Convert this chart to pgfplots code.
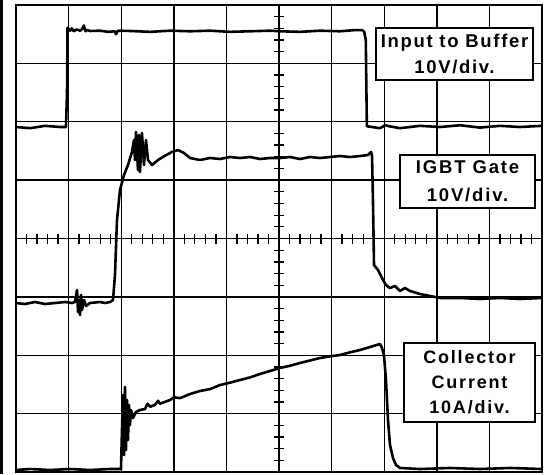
\documentclass[border=0pt]{standalone}
\usepackage{pgfplots}
\pgfplotsset{compat=1.18}
\usepackage{fontspec}
\setmainfont{Liberation Sans}
\begin{document}
\begin{tikzpicture}[x=1pt,y=1pt]
\useasboundingbox (0,0) rectangle (546,474);
\draw[line width=2.5pt] (1.3,0) -- (1.3,474);
\begin{axis}[at={(16pt,2pt)}, anchor=south west, scale only axis,
  width=526pt, height=467pt,
  xmin=0, xmax=10, ymin=0, ymax=8,
  xtick={0,...,10}, ytick={0,...,8},
  xticklabels={}, yticklabels={}, major tick length=0pt,
  tick style={draw=none},
  grid=major, grid style={black, line width=1.4pt},
  axis line style={black, line width=2.2pt},
  clip mode=individual]
% center graticule ticks
\addplot[only marks, mark=|, mark size=5pt, mark options={line width=1.3pt, black}] coordinates {
(0.2,4)(0.4,4)(0.6,4)(0.8,4)(1.2,4)(1.4,4)(1.6,4)(1.8,4)(2.2,4)(2.4,4)(2.6,4)(2.8,4)
(3.2,4)(3.4,4)(3.6,4)(3.8,4)(4.2,4)(4.4,4)(4.6,4)(4.8,4)(5.2,4)(5.4,4)(5.6,4)(5.8,4)
(6.2,4)(6.4,4)(6.6,4)(6.8,4)(7.2,4)(7.4,4)(7.6,4)(7.8,4)(8.2,4)(8.4,4)(8.6,4)(8.8,4)
(9.2,4)(9.4,4)(9.6,4)(9.8,4)};
\addplot[only marks, mark=-, mark size=5pt, mark options={line width=1.3pt, black}] coordinates {
(5,0.2)(5,0.4)(5,0.6)(5,0.8)(5,1.2)(5,1.4)(5,1.6)(5,1.8)(5,2.2)(5,2.4)(5,2.6)(5,2.8)
(5,3.2)(5,3.4)(5,3.6)(5,3.8)(5,4.2)(5,4.4)(5,4.6)(5,4.8)(5,5.2)(5,5.4)(5,5.6)(5,5.8)
(5,6.2)(5,6.4)(5,6.6)(5,6.8)(5,7.2)(5,7.4)(5,7.6)(5,7.8)};
% Input to buffer
\addplot[black, line width=2.6pt, line join=round] coordinates {
(0,5.91)(0.27,5.89)(0.55,5.93)(0.84,5.91)(0.95,5.91)(0.97,6.5)(0.98,7.61)(1.03,7.56)(1.06,7.60)
(1.10,7.55)(1.15,7.58)(1.22,7.56)(1.26,7.59)(1.29,7.65)(1.32,7.55)(1.35,7.57)(1.41,7.555)(1.60,7.56)(1.75,7.54)(1.88,7.55)
(1.90,7.50)(1.94,7.56)(2.17,7.555)(2.55,7.54)(2.93,7.56)(3.31,7.55)(3.69,7.56)(4.07,7.54)
(4.45,7.55)(4.83,7.56)(5.02,7.55)(5.40,7.54)(5.78,7.56)(6.16,7.55)(6.44,7.57)(6.58,7.57)
(6.62,7.54)(6.65,7.40)(6.67,5.93)(6.69,5.92)(6.92,5.89)(7.02,5.94)(7.11,5.92)(7.30,5.89)
(7.68,5.93)(8.06,5.91)(8.44,5.94)(8.82,5.90)(9.20,5.93)(9.58,5.91)(10,5.93)};
% IGBT gate
\addplot[black, line width=2.6pt, line join=round] coordinates {
(0,2.895)(0.171,2.878)(0.361,2.912)(0.551,2.878)(0.741,2.895)(0.932,2.912)(1.065,2.895)
(1.122,2.912)(1.160,3.118)(1.179,2.741)(1.198,2.946)(1.217,2.690)(1.236,3.032)(1.255,2.775)
(1.293,2.946)(1.331,2.844)(1.407,2.895)(1.597,2.912)(1.692,2.895)(1.787,2.912)(1.844,2.946)
(1.882,3.375)(1.920,4.317)(1.977,4.831)(2.053,5.088)(2.129,5.259)(2.205,5.482)(2.243,5.687)
(2.262,5.345)(2.281,5.824)(2.319,5.173)(2.338,5.773)(2.357,5.139)(2.395,5.807)(2.433,5.259)
(2.471,5.687)(2.510,5.345)(2.586,5.259)(2.700,5.345)(2.833,5.419)(2.966,5.482)(3.080,5.516)
(3.194,5.465)(3.308,5.379)(3.498,5.345)(3.688,5.379)(3.878,5.362)(4.068,5.396)(4.259,5.379)
(4.449,5.396)(4.639,5.362)(4.829,5.379)(5.019,5.379)(5.209,5.396)(5.399,5.362)(5.589,5.396)
(5.779,5.379)(5.970,5.396)(6.160,5.413)(6.350,5.396)(6.540,5.413)(6.692,5.430)(6.749,5.482)
(6.768,5.430)(6.787,4.626)(6.806,3.546)(6.882,3.460)(6.958,3.323)(7.034,3.203)(7.110,3.152)
(7.205,3.186)(7.300,3.101)(7.395,3.152)(7.490,3.101)(7.681,3.049)(7.871,3.015)(8.061,2.981)
(8.441,2.981)(8.821,2.964)(9.202,2.981)(9.582,2.964)(10,2.981)};
% Collector current
\addplot[black, line width=2.6pt, line join=round] coordinates {
(0,0.034)(0.266,0.051)(0.646,0.034)(1.027,0.051)(1.407,0.034)(1.787,0.051)(1.996,0.051)
(2.015,0.719)(2.034,1.319)(2.053,0.291)(2.072,1.456)(2.091,0.377)(2.110,1.233)(2.129,0.548)
(2.148,1.148)(2.167,0.805)(2.186,1.062)(2.224,0.925)(2.281,1.028)(2.357,1.062)(2.452,1.079)
(2.50,1.17)(2.55,1.118)(2.643,1.150)(2.70,1.22)(2.738,1.170)(2.928,1.233)(3.0,1.28)(3.118,1.265)(3.308,1.336)(3.498,1.388)
(3.688,1.420)(3.878,1.490)(4.068,1.530)(4.259,1.576)(4.449,1.620)(4.639,1.679)(4.829,1.730)
(5.019,1.782)(5.209,1.820)(5.399,1.867)(5.589,1.910)(5.779,1.953)(5.970,1.980)(6.160,2.004)
(6.350,2.050)(6.540,2.090)(6.730,2.141)(6.920,2.193)(6.958,2.124)(6.996,2.00)(7.034,1.576)
(7.072,0.891)(7.110,0.463)(7.167,0.240)(7.224,0.120)(7.300,0.069)(7.681,0.051)(8.251,0.069)
(8.821,0.051)(9.392,0.069)(10,0.051)};
% labels
\node[draw=black, line width=1.5pt, fill=white, minimum width=157pt, minimum height=52pt,
  inner sep=0pt, align=center, font=\bfseries\fontsize{18.5}{26}\selectfont\addfontfeature{LetterSpace=9}]
  at (axis cs:8.337,7.161) {Input to Buffer\\10V/div.};
\node[draw=black, line width=1.5pt, fill=white, minimum width=135pt, minimum height=53pt,
  inner sep=0pt, align=center, font=\bfseries\fontsize{18.5}{28}\selectfont\addfontfeature{LetterSpace=10}]
  at (axis cs:8.584,4.976) {IGBT Gate\\10V/div.};
\node[draw=black, line width=1.5pt, fill=white, minimum width=131pt, minimum height=79pt,
  inner sep=0pt, align=center, font=\bfseries\fontsize{18}{25}\selectfont\addfontfeature{LetterSpace=10}]
  at (axis cs:8.622,1.533) {Collector\\Current\\10A/div.};
\end{axis}
\end{tikzpicture}
\end{document}
